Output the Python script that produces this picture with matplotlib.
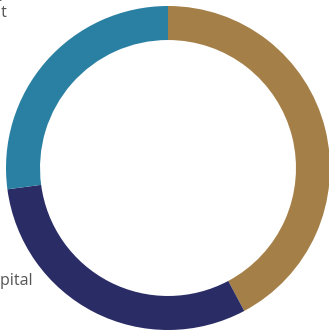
import matplotlib
matplotlib.use("Agg")
import matplotlib.pyplot as plt

labels = ["Equity Investment", "Working Capital", "Debt Investment"]
values = [42.2, 30.7, 27.1]
colors = ["#A57F48", "#2A2C66", "#2A80A2"]

W, H = 329, 331
fig = plt.figure(figsize=(W / 100, H / 100), dpi=100)
cx, cy, r = 168, 168, 162
ax = fig.add_axes([(cx - r) / W, (H - cy - r) / H, 2 * r / W, 2 * r / H])
ax.pie(values, colors=colors, startangle=90, counterclock=False,
       radius=1.0, wedgeprops=dict(width=0.21, linewidth=0))
ax.set_xlim(-1, 1)
ax.set_ylim(-1, 1)
ax.set_aspect("auto")
ax.axis("off")

fig.text(7 / W, 1 - 17 / H, "Private Equity\nInvestment", ha="right", va="baseline",
         multialignment="right", fontsize=11.5, color="#555555", family="Open Sans",
         linespacing=1.3)
fig.text(32.5 / W, 1 - 285 / H, "Working Capital", ha="right", va="baseline",
         fontsize=11.5, color="#555555", family="Open Sans")

fig.savefig("out.png", dpi=100)
